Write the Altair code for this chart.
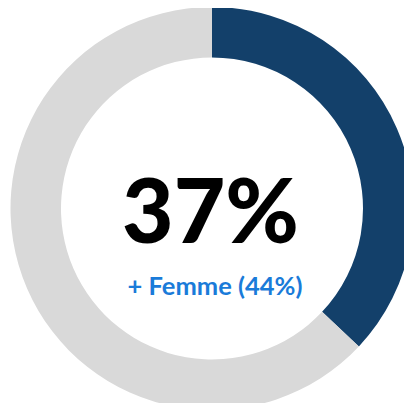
import altair as alt
import pandas as pd

segments = ["Homme", "Reste"]
values = [37, 63]
orders = [0, 1]
colors = ["#13406A", "#D9D9D9"]

main_label = ["37%"]
sub_label = ["+ Femme (44%)"]

df = pd.DataFrame({"segment": segments, "value": values, "ord": orders})

CX, CY = 204, 200.5

arc = alt.Chart(df).mark_arc(outerRadius=201.5, innerRadius=151, strokeWidth=0).encode(
    theta=alt.Theta("value:Q", stack=True),
    color=alt.Color("segment:N", scale=alt.Scale(domain=segments, range=colors), legend=None),
    order=alt.Order("ord:Q"),
    x=alt.value(CX),
    y=alt.value(CY),
)

big = alt.Chart(pd.DataFrame({"t": main_label})).mark_text(
    font="Lato", fontWeight=900, fontSize=89, color="#000000", align="center", baseline="alphabetic"
).encode(text="t:N", x=alt.value(CX - 1.5), y=alt.value(234.5))

small = alt.Chart(pd.DataFrame({"t": sub_label})).mark_text(
    font="Lato", fontWeight="bold", fontSize=25.5, color="#1A7BD9", align="center", baseline="alphabetic"
).encode(text="t:N", x=alt.value(CX + 3), y=alt.value(287))

chart = alt.layer(arc, big, small).properties(
    width=396, height=395, padding=0, autosize=alt.AutoSizeParams(type="none"),
).configure_view(stroke=None)

chart.save("out.html", embed_options={"renderer": "svg", "actions": False})
